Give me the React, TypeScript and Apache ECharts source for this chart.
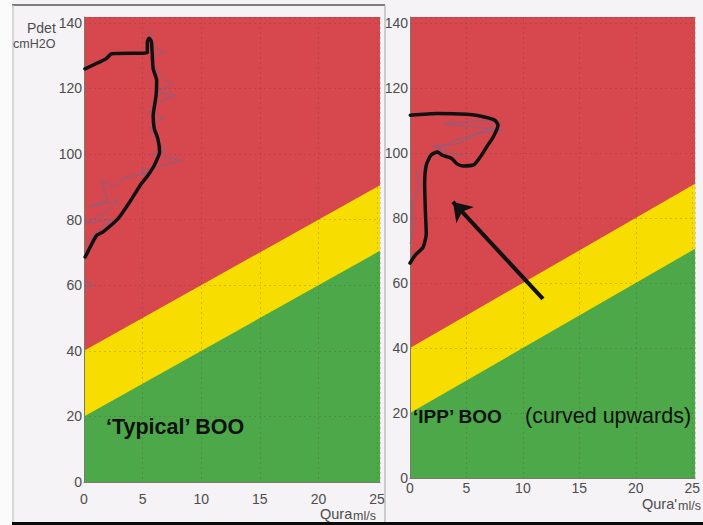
import React, { useEffect, useRef } from "react";
import * as echarts from "echarts";

// ---- data ----
const flowTicks = [0, 5, 10, 15, 20, 25];
const pressureTicks = [0, 20, 40, 60, 80, 100, 120, 140];
const flowMax = 25.25;
const pressureMax = 141.8;

// zone boundaries (Pdet = 20 + 2Q, Pdet = 40 + 2Q)
const unobstructedTop: number[][] = [[0, 20], [25.25, 70.5]];
const equivocalTop: number[][] = [[0, 40], [25.25, 90.5]];
const obstructedTop: number[][] = [[0, 141.8], [25.25, 141.8]];

// left panel: 'Typical' BOO — hand-drawn black envelope [Qura, Pdet]
const typicalCurve: number[][] = [
  [0.1, 68.6], [1.07, 75.2], [1.6, 76.2], [2.9, 80.3], [3.9, 85.4], [4.9, 91.0],
  [5.45, 93.5], [6.0, 96.6], [6.45, 100.6], [6.3, 104.7], [6.0, 107.7], [5.9, 111.7],
  [6.15, 117.9], [6.2, 122.5], [5.9, 126.0], [5.75, 134.2], [5.55, 135.3], [5.4, 134.2],
  [5.4, 130.9], [2.35, 130.6], [1.9, 129.1], [1.35, 128.1], [0.08, 126.0],
];
// left panel: thin measured traces
const typicalTraceUpper: number[][] = [
  [5.6, 138], [5.9, 133], [6.8, 131], [5.7, 129], [6.3, 125], [7.5, 121], [6.0, 119],
  [7.8, 118], [6.4, 116], [5.5, 113], [6.8, 111], [5.6, 108], [6.2, 104], [7.0, 101],
  [5.8, 100], [8.3, 98], [6.0, 96], [4.8, 95], [5.5, 94], [3.5, 93],
];
const typicalTraceLower: number[][] = [
  [3.5, 93], [2.5, 90], [1.5, 92], [2.0, 86], [0.5, 84], [3.0, 86], [1.8, 82],
  [0.2, 79], [2.5, 80], [1.0, 76], [0.3, 73],
];
const typicalTraceStart: number[][] = [[0, 61.5], [0.8, 60], [0, 59]];

// right panel: 'IPP' BOO — hand-drawn black envelope
const ippCurve: number[][] = [
  [0, 66.1], [0.45, 68.5], [1.16, 71.0], [1.44, 75.1], [1.36, 82.3], [1.3, 90.6],
  [1.44, 96.2], [1.86, 99.3], [2.43, 100.3], [2.85, 99.3], [3.7, 98.3], [4.13, 96.7],
  [4.69, 96.0], [5.68, 96.4], [6.24, 98.8], [6.8, 101.9], [7.37, 104.9], [7.8, 108.5],
  [7.5, 110.1], [6.1, 111.4], [4.97, 111.9], [2.43, 112.1], [0.03, 111.6],
];
const ippTrace: number[][] = [
  [0, 72], [0.4, 78], [0.2, 84], [0.8, 90], [0.6, 94], [1.5, 97], [2.5, 101],
  [4.0, 104], [6.0, 106], [8.2, 107], [5.5, 108], [3.0, 109], [6.5, 110],
  [8.0, 109.5], [4.5, 103], [2.0, 102], [3.5, 100], [5.0, 99],
];
const ippArrow: number[][] = [[11.78, 55.1], [3.8, 84.9]];

const zoneColors = { obstructed: "#d6484e", equivocal: "#f8de00", unobstructed: "#4ca848" };
const FONT = "'Liberation Sans', Arial, sans-serif";
const GRID_LINE = { color: "rgba(90,50,50,0.22)", type: [2, 3], width: 1 };

function zoneSeries(idx: number) {
  const mk = (data: number[][], color: string) => ({
    type: "line",
    xAxisIndex: idx,
    yAxisIndex: idx,
    data,
    symbol: "none",
    silent: true,
    lineStyle: { width: 0 },
    areaStyle: { color, opacity: 1, origin: "start" },
    z: 1,
  });
  return [
    mk(obstructedTop, zoneColors.obstructed),
    mk(equivocalTop, zoneColors.equivocal),
    mk(unobstructedTop, zoneColors.unobstructed),
  ];
}

function traceSeries(idx: number, data: number[][]) {
  return {
    type: "line",
    xAxisIndex: idx,
    yAxisIndex: idx,
    data,
    symbol: "none",
    silent: true,
    lineStyle: { width: 1, color: "rgba(105,105,150,0.75)" },
    z: 6,
  };
}

function curveSeries(idx: number, data: number[][]) {
  return {
    type: "line",
    xAxisIndex: idx,
    yAxisIndex: idx,
    data,
    symbol: "none",
    silent: true,
    smooth: 0.2,
    lineStyle: { width: 3.5, color: "#111", cap: "round", join: "round" },
    z: 10,
  };
}

function xAxisCfg(idx: number, margin: number) {
  return {
    type: "value",
    gridIndex: idx,
    min: 0,
    max: flowMax,
    interval: 5,
    z: 4,
    axisLine: { show: true, lineStyle: { color: "#7a7a6a", width: 1 } },
    axisTick: { show: false },
    splitLine: { show: true, lineStyle: GRID_LINE },
    axisLabel: {
      margin,
      color: "#4d4d4d",
      fontSize: 14,
      fontFamily: FONT,
      formatter: (v: number) => (flowTicks.includes(v) ? String(v) : ""),
    },
  };
}

function yAxisCfg(idx: number, margin: number) {
  return {
    type: "value",
    gridIndex: idx,
    min: 0,
    max: pressureMax,
    interval: 20,
    z: 4,
    axisLine: { show: true, lineStyle: { color: "#7a7a6a", width: 1 } },
    axisTick: { show: false },
    splitLine: { show: true, lineStyle: GRID_LINE },
    axisLabel: {
      margin,
      color: "#4d4d4d",
      fontSize: 14,
      fontFamily: FONT,
      formatter: (v: number) => (pressureTicks.includes(v) ? String(v) : ""),
    },
  };
}

export default function App() {
  const ref = useRef<HTMLDivElement>(null);
  useEffect(() => {
    if (!ref.current) return;
    const chart = echarts.init(ref.current, null, { renderer: "svg" });
    chart.setOption({
      animation: false,
      backgroundColor: "#f5f3f5",
      grid: [
        { left: 84, top: 17, width: 296, height: 465 },
        { left: 410, top: 17, width: 293, height: 461 },
      ],
      xAxis: [xAxisCfg(0, 10), xAxisCfg(1, 3)],
      yAxis: [yAxisCfg(0, 2), yAxisCfg(1, 2)],
      series: [
        ...zoneSeries(0),
        ...zoneSeries(1),
        traceSeries(0, typicalTraceUpper),
        traceSeries(0, typicalTraceLower),
        traceSeries(0, typicalTraceStart),
        traceSeries(1, ippTrace),
        curveSeries(0, typicalCurve),
        curveSeries(1, ippCurve),
        {
          type: "lines",
          coordinateSystem: "cartesian2d",
          xAxisIndex: 1,
          yAxisIndex: 1,
          silent: true,
          symbol: ["none", "arrow"],
          symbolSize: 18,
          lineStyle: { color: "#111", width: 4, opacity: 1 },
          data: [{ coords: ippArrow }],
          z: 10,
        },
      ],
      graphic: [
        { type: "rect", shape: { x: 0, y: 0, width: 12, height: 525 }, style: { fill: "#fbfbfb" }, z: 0 },
        { type: "line", shape: { x1: 12, y1: 5, x2: 385, y2: 5 }, style: { stroke: "#7d7d7d", lineWidth: 2 }, z: 5 },
        { type: "line", shape: { x1: 13, y1: 5, x2: 13, y2: 522 }, style: { stroke: "#bdbdbd", lineWidth: 1 }, z: 5 },
        { type: "line", shape: { x1: 385, y1: 5, x2: 385, y2: 522 }, style: { stroke: "#a5a5a5", lineWidth: 1 }, z: 5 },
        { type: "rect", shape: { x: 12, y: 522, width: 691, height: 3 }, style: { fill: "#0a0a0a" }, z: 5 },
        {
          type: "text", x: 27, y: 28, z: 20,
          style: { text: "Pdet", fill: "#4d4d4d", font: `14px ${FONT}`, verticalAlign: "middle" },
        },
        {
          type: "text", x: 13, y: 44, z: 20,
          style: { text: "cmH2O", fill: "#4d4d4d", font: `12.5px ${FONT}`, verticalAlign: "middle" },
        },
        {
          type: "text", x: 320, y: 514, z: 20,
          style: { text: "Qura", fill: "#4d4d4d", font: `14.5px ${FONT}`, verticalAlign: "middle" },
        },
        {
          type: "text", x: 353, y: 516, z: 20,
          style: { text: "ml/s", fill: "#4d4d4d", font: `12.5px ${FONT}`, verticalAlign: "middle" },
        },
        {
          type: "text", x: 642, y: 504, z: 20,
          style: { text: "Qura'", fill: "#4d4d4d", font: `14.5px ${FONT}`, verticalAlign: "middle" },
        },
        {
          type: "text", x: 678, y: 506, z: 20,
          style: { text: "ml/s", fill: "#4d4d4d", font: `12.5px ${FONT}`, verticalAlign: "middle" },
        },
        {
          type: "text", x: 106, y: 427, z: 20,
          style: { text: "\u2018Typical\u2019 BOO", fill: "#111", font: `bold 21.5px ${FONT}`, verticalAlign: "middle" },
        },
        {
          type: "text", x: 413, y: 416, z: 20,
          style: { text: "\u2018IPP\u2019 BOO", fill: "#111", font: `bold 19px ${FONT}`, verticalAlign: "middle" },
        },
        {
          type: "text", x: 525, y: 416, z: 20,
          style: { text: "(curved upwards)", fill: "#111", font: `21.5px ${FONT}`, verticalAlign: "middle" },
        },
      ],
    });
    return () => chart.dispose();
  }, []);
  return (
    <div
      ref={ref}
      style={{ position: "fixed", left: 0, top: 0, width: 703, height: 525 }}
    />
  );
}
